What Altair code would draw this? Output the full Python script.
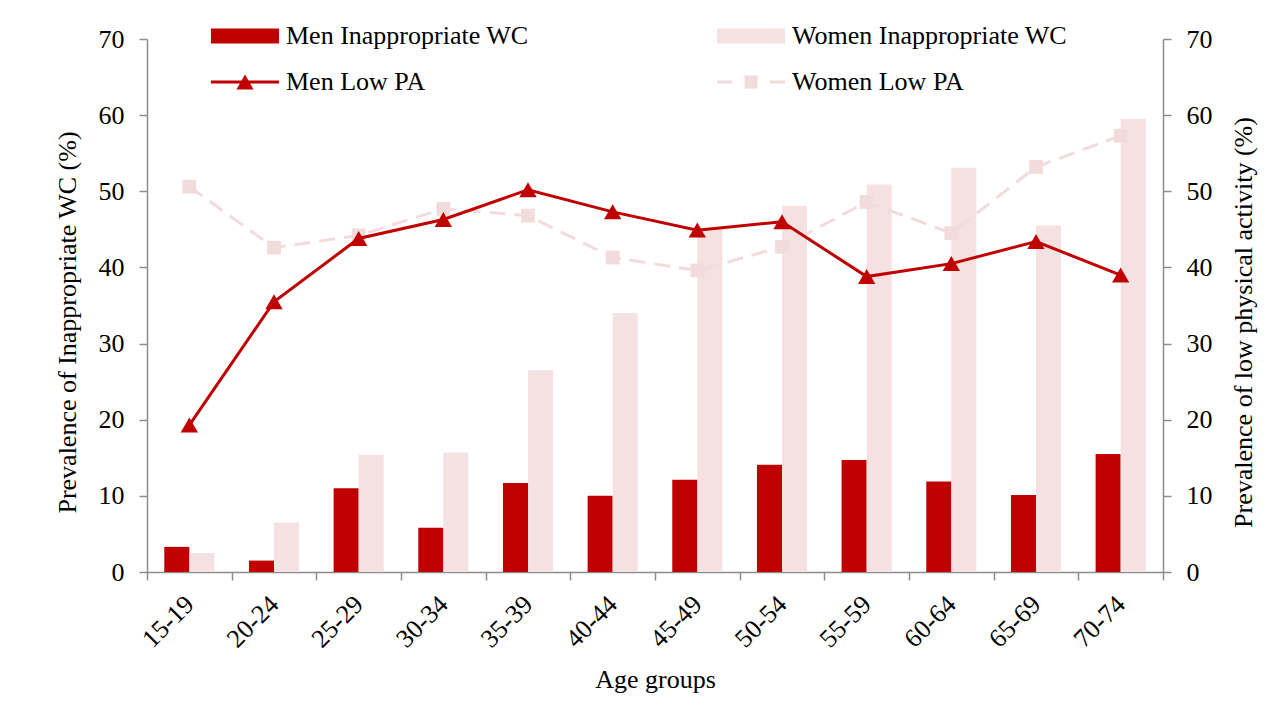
import altair as alt
import pandas as pd

# ---------------- data ----------------
ages = ["15-19", "20-24", "25-29", "30-34", "35-39", "40-44",
        "45-49", "50-54", "55-59", "60-64", "65-69", "70-74"]
men_wc = [3.3, 1.5, 11.0, 5.8, 11.7, 10.0, 12.1, 14.1, 14.7, 11.9, 10.1, 15.5]
women_wc = [2.5, 6.5, 15.4, 15.7, 26.5, 34.0, 45.1, 48.1, 50.9, 53.1, 45.5, 59.5]
men_pa = [19.3, 35.5, 43.8, 46.3, 50.2, 47.3, 44.9, 46.0, 38.8, 40.5, 43.4, 39.0]
women_pa = [50.6, 42.6, 44.2, 47.7, 46.8, 41.3, 39.6, 42.7, 48.6, 44.5, 53.2, 57.3]

bar_series = ["Men Inappropriate WC", "Women Inappropriate WC"]
bar_colors = ["#C00000", "#F5E1E2"]
# legend order (filled column by column): Men WC, Men PA | Women WC, Women PA
legend_names = ["Men Inappropriate WC", "Men Low PA", "Women Inappropriate WC", "Women Low PA"]
legend_colors = ["#C00000", "#C00000", "#F5E1E2", "#F2DCDB"]
# legend glyphs (custom symbol paths): bar block, line+triangle, bar block, dash+square+dash
legend_shapes = [
    "M-2.27,-0.5H2.27V0.5H-2.27Z",
    "M-2.27,-0.1H2.27V0.1H-2.27Z M-0.57,0.5L0,-0.5L0.57,0.5Z",
    "M-2.27,-0.5H2.27V0.5H-2.27Z",
    "M-2.27,-0.1H-1.27V0.1H-2.27Z M-0.43,-0.43H0.43V0.43H-0.43Z M1.27,-0.1H2.27V0.1H1.27Z",
]

FONT = "Liberation Serif"
MEN = "#C00000"
WOMEN_LINE = "#F2DCDB"

bars_df = pd.DataFrame({
    "age": ages * 2,
    "series": [bar_series[0]] * len(ages) + [bar_series[1]] * len(ages),
    "value": men_wc + women_wc,
})
pa_df = pd.DataFrame({"age": ages, "men": men_pa, "women": women_pa})
legend_df = pd.DataFrame({"series": legend_names})

x_scale = alt.Scale(domain=ages, paddingInner=0, paddingOuter=0)
x_axis = alt.Axis(title="Age groups", labelAngle=315, labelAlign="right",
                  labelBaseline="middle", labelPadding=20, tickBand="extent",
                  titlePadding=14)
x_enc = alt.X("age:N", scale=x_scale, axis=x_axis, sort=None)
ticks = list(range(0, 71, 10))

left_axis = alt.Axis(title="Prevalence of Inappropriate WC (%)", orient="left",
                     values=ticks, titlePadding=18, titleY=283)
right_axis = alt.Axis(title="Prevalence of low physical activity (%)", orient="right",
                      values=ticks, titlePadding=18, titleAngle=270, titleBaseline="top",
                      titleY=283)
y_scale = alt.Scale(domain=[0, 70], nice=False)

bars = alt.Chart(bars_df).mark_bar().encode(
    x=x_enc,
    xOffset=alt.XOffset("series:N", sort=None,
                        scale=alt.Scale(domain=bar_series, paddingInner=0, paddingOuter=0.69)),
    y=alt.Y("value:Q", scale=y_scale, axis=left_axis),
    fill=alt.Fill("series:N", scale=alt.Scale(domain=bar_series, range=bar_colors),
                  legend=None),
)

men_line = alt.Chart(pa_df).mark_line(color=MEN, strokeWidth=3).encode(
    x=x_enc, y=alt.Y("men:Q", scale=y_scale, axis=right_axis))
men_pts = alt.Chart(pa_df).mark_point(shape="triangle-up", filled=True, size=300,
                                      color=MEN, opacity=1).encode(
    x=x_enc, y=alt.Y("men:Q", scale=y_scale, axis=right_axis))
women_line = alt.Chart(pa_df).mark_line(color=WOMEN_LINE, strokeWidth=3,
                                        strokeDash=[16, 9]).encode(
    x=x_enc, y=alt.Y("women:Q", scale=y_scale, axis=right_axis))
women_pts = alt.Chart(pa_df).mark_point(shape="square", filled=True, size=190,
                                        color=WOMEN_LINE, opacity=1).encode(
    x=x_enc, y=alt.Y("women:Q", scale=y_scale, axis=right_axis))

leg = alt.Legend(title=None, orient="none", legendX=83, legendY=-18, columns=2,
                 columnPadding=187, rowPadding=18, symbolSize=900, labelOffset=26,
                 labelFont=FONT, labelFontSize=26, labelColor="#000000", labelLimit=600,
                 symbolStrokeWidth=0, symbolOpacity=1, padding=0)
legend_layer = alt.Chart(legend_df).transform_filter("false").mark_point(
    filled=True, opacity=1).encode(
    color=alt.Color("series:N", scale=alt.Scale(domain=legend_names, range=legend_colors), legend=leg),
    shape=alt.Shape("series:N", scale=alt.Scale(domain=legend_names, range=legend_shapes), legend=leg),
)

lines = alt.layer(women_line, women_pts, men_line, men_pts, legend_layer)

chart = alt.layer(bars, lines).resolve_scale(y="independent").properties(
    width=1016, height=533,
    autosize=alt.AutoSizeParams(type="none"),
    padding={"left": 139, "top": 31, "right": 100, "bottom": 132},
).configure_view(stroke=None).configure_axis(
    grid=False,
    domainColor="#8C8C8C", domainWidth=1.5,
    tickColor="#8C8C8C", tickWidth=1.5, tickSize=8,
    labelFont=FONT, labelFontSize=26, labelColor="#000000", labelPadding=15,
    titleFont=FONT, titleFontSize=26, titleFontWeight="normal", titleColor="#000000",
)

chart.save("out.html", embed_options={"renderer": "svg", "actions": False})
